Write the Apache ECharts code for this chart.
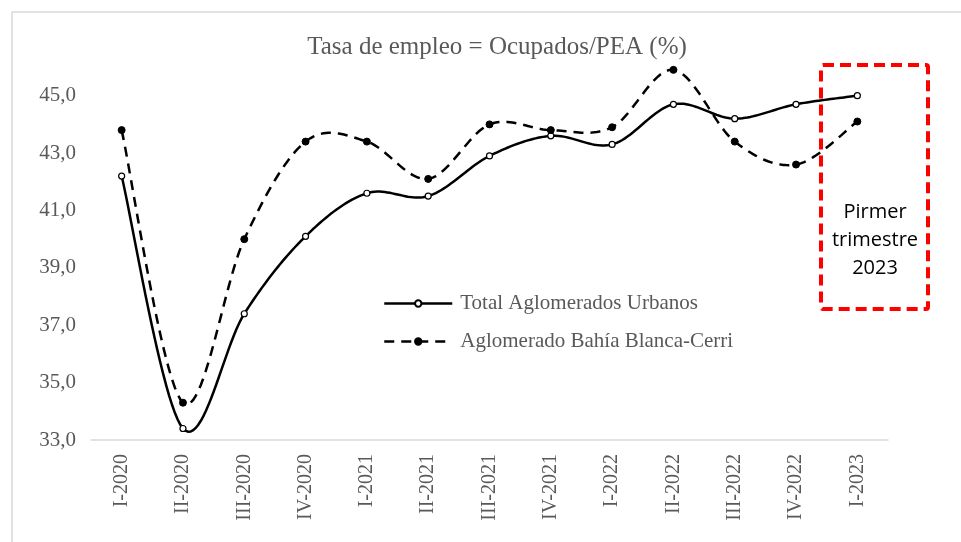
<!DOCTYPE html>
<html>
<head>
<meta charset="utf-8">
<script src="https://cdn.jsdelivr.net/npm/echarts@6/dist/echarts.min.js"></script>
<style>html,body{margin:0;padding:0;background:#fff;}#c{width:961px;height:542px;}</style>
</head>
<body>
<div id="c"></div>
<script>
const categories = ['I-2020','II-2020','III-2020','IV-2020','I-2021','II-2021','III-2021','IV-2021','I-2022','II-2022','III-2022','IV-2022','I-2023'];
const totalAglomerados = [42.2, 33.4, 37.4, 40.1, 41.6, 41.5, 42.9, 43.6, 43.3, 44.7, 44.2, 44.7, 45.0];
const bahiaBlanca = [43.8, 34.3, 40.0, 43.4, 43.4, 42.1, 44.0, 43.8, 43.9, 45.9, 43.4, 42.6, 44.1];
const yTickLabels = [33, 35, 37, 39, 41, 43, 45];
const seriesNames = ['Total Aglomerados Urbanos', 'Aglomerado Bahía Blanca-Cerri'];
const titleText = 'Tasa de empleo = Ocupados/PEA (%)';
const noteText = 'Pirmer\ntrimestre\n2023';

const serif = '"Liberation Serif", "DejaVu Serif", serif';
const DASH = [10, 7];

// Excel-like smoothed curve (Catmull-Rom), drawn through the chart's own coordinate system
function smoothRenderer(values, dash) {
  return function (params, api) {
    if (params.dataIndex !== 0) return null;
    const pts = values.map((v, i) => api.coord([i, v]));
    const out = [];
    const n = pts.length;
    for (let i = 0; i < n - 1; i++) {
      const p0 = pts[Math.max(i - 1, 0)], p1 = pts[i], p2 = pts[i + 1], p3 = pts[Math.min(i + 2, n - 1)];
      const c1 = [p1[0] + (p2[0] - p0[0]) / 6, p1[1] + (p2[1] - p0[1]) / 6];
      const c2 = [p2[0] - (p3[0] - p1[0]) / 6, p2[1] - (p3[1] - p1[1]) / 6];
      const steps = 24;
      for (let s = (i === 0 ? 0 : 1); s <= steps; s++) {
        const t = s / steps, u = 1 - t;
        out.push([
          u*u*u*p1[0] + 3*u*u*t*c1[0] + 3*u*t*t*c2[0] + t*t*t*p2[0],
          u*u*u*p1[1] + 3*u*u*t*c1[1] + 3*u*t*t*c2[1] + t*t*t*p2[1]
        ]);
      }
    }
    return {
      type: 'polyline',
      shape: { points: out },
      style: { stroke: '#000', lineWidth: 2.5, fill: null, lineDash: dash || null }
    };
  };
}

const chart = echarts.init(document.getElementById('c'));
chart.setOption({
  animation: false,
  backgroundColor: '#fff',
  title: {
    text: titleText, left: 492, textAlign: 'center', top: 30,
    textStyle: { fontFamily: serif, fontSize: 25, fontWeight: 'normal', color: '#595959' }
  },
  grid: { left: 91, right: 73, top: 67, bottom: 102 },
  legend: {
    orient: 'vertical', left: 383, top: 293, padding: 0, itemGap: 17, itemWidth: 68, itemHeight: 8,
    textStyle: { fontFamily: serif, fontSize: 21, color: '#595959', padding: [0, 0, 0, 3] },
    data: [
      { name: seriesNames[0], lineStyle: { color: '#000', width: 2.5, opacity: 1, type: 'solid' } },
      { name: seriesNames[1], lineStyle: { color: '#000', width: 2.5, opacity: 1, type: DASH } }
    ]
  },
  xAxis: {
    type: 'category', data: categories, boundaryGap: true,
    axisLine: { lineStyle: { color: '#d9d9d9', width: 1.5 } },
    axisTick: { show: false },
    axisLabel: { rotate: 90, margin: 14, fontFamily: serif, fontSize: 20, color: '#595959', interval: 0 }
  },
  yAxis: {
    type: 'value', min: 33, max: 46, interval: 2,
    axisLine: { show: false }, axisTick: { show: false }, splitLine: { show: false },
    axisLabel: {
      showMaxLabel: false, margin: 15, fontFamily: serif, fontSize: 21, color: '#595959',
      formatter: v => yTickLabels.includes(v) ? v.toFixed(1).replace('.', ',') : ''
    }
  },
  series: [
    {
      type: 'custom', name: 'curveTotal', silent: true, z: 2,
      data: totalAglomerados.map((v, i) => [i, v]), encode: { x: 0, y: 1 },
      renderItem: smoothRenderer(totalAglomerados, null)
    },
    {
      type: 'custom', name: 'curveBahia', silent: true, z: 2,
      data: bahiaBlanca.map((v, i) => [i, v]), encode: { x: 0, y: 1 },
      renderItem: smoothRenderer(bahiaBlanca, DASH)
    },
    {
      name: seriesNames[0], type: 'line', data: totalAglomerados, silent: true,
      symbol: 'circle', symbolSize: 6, z: 4,
      lineStyle: { color: '#000', width: 2.5, opacity: 0 },
      itemStyle: { color: '#fff', borderColor: '#000', borderWidth: 1.2 }
    },
    {
      name: seriesNames[1], type: 'line', data: bahiaBlanca, silent: true,
      symbol: 'circle', symbolSize: 7, z: 4,
      lineStyle: { color: '#000', width: 2.5, opacity: 0, type: DASH },
      itemStyle: { color: '#000', borderColor: '#000', borderWidth: 1 }
    }
  ],
  graphic: [
    { type: 'rect', shape: { x: 12, y: 12, width: 1000, height: 1000 }, style: { fill: null, stroke: '#d9d9d9', lineWidth: 1.5 }, silent: true, z: -1 },
    { type: 'rect', shape: { x: 821, y: 65, width: 107, height: 244, r: 2 }, style: { fill: null, stroke: '#ff0000', lineWidth: 4, lineDash: [11, 6] }, z: 10 },
    { type: 'text', x: 875, y: 240, style: { text: noteText, fill: '#000', font: '20px "Open Sans", "Liberation Sans", sans-serif', align: 'center', verticalAlign: 'middle', lineHeight: 28 }, z: 10 }
  ]
});
</script>
</body>
</html>
